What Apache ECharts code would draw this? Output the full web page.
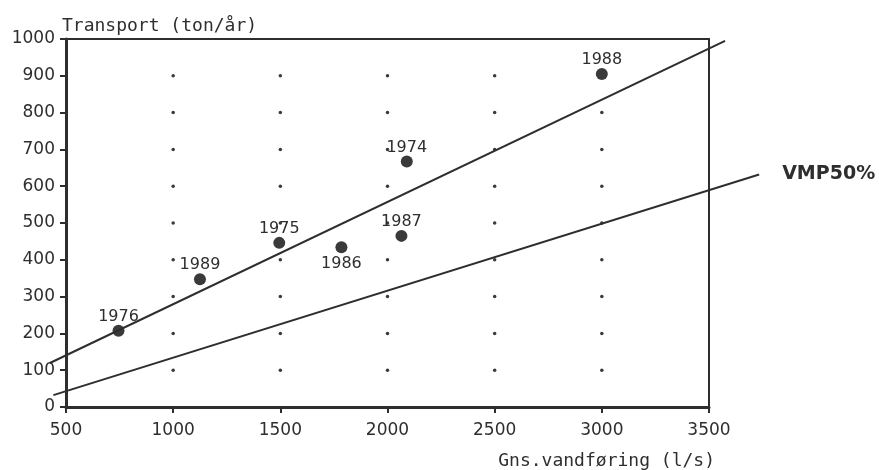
<!DOCTYPE html>
<html>
<head>
<meta charset="utf-8">
<script src="https://cdn.jsdelivr.net/npm/echarts@6/dist/echarts.min.js"></script>
<style>
  html, body { margin: 0; padding: 0; background: #fff; }
  #chart { width: 879px; height: 470px; }
</style>
</head>
<body>
<div id="chart"></div>
<script>
var years = ["1976", "1989", "1975", "1986", "1974", "1987", "1988"];
var flow = [745, 1125, 1495, 1785, 2090, 2065, 3000];
var transport = [207, 347, 446, 434, 667, 465, 905];

// fitted line through the points, and the VMP 50% curve
var fitX = [425, 3575];
var fitY = [122, 995];
var vmpX = [441, 3734];
var vmpY = [35, 633];

// dotted grid marks
var dotX = [1000, 1500, 2000, 2500, 3000];
var dotY = [100, 200, 300, 400, 500, 600, 700, 800, 900];

var ink = "#2e2e2e";
var font = "DejaVu Sans";
var nameFont = "DejaVu Sans Mono";

// plot frame in pixels, and an extended range for the lines that run past it
var plotLeft = 66, plotRight = 170, plotTop = 39, plotBottom = 62;
var xMin = 500, xMax = 3500, wideMin = 400, wideMax = 3800;
var pxPerUnit = (879 - plotLeft - plotRight) / (xMax - xMin);

var dots = [];
dotX.forEach(function (x) {
  dotY.forEach(function (y) {
    dots.push([x, y]);
  });
});

var points = years.map(function (year, i) {
  var below = year === "1986";
  return {
    name: year,
    value: [flow[i], transport[i]],
    label: { position: below ? "bottom" : "top", distance: below ? 3 : 0 }
  };
});

var noFormat = function (v) { return String(v); };

var chart = echarts.init(document.getElementById("chart"));

chart.setOption({
  animation: false,
  grid: [
    {
      left: plotLeft, right: plotRight, top: plotTop, bottom: plotBottom,
      show: true, borderColor: ink, borderWidth: 2
    },
    {
      left: plotLeft - (xMin - wideMin) * pxPerUnit,
      right: plotRight - (wideMax - xMax) * pxPerUnit,
      top: plotTop, bottom: plotBottom
    }
  ],
  xAxis: [
    {
      type: "value",
      gridIndex: 0,
      min: xMin, max: xMax, interval: 500,
      name: "Gns.vandføring (l/s)",
      nameLocation: "end",
      nameGap: 0,
      nameTextStyle: {
        color: ink, fontFamily: nameFont, fontSize: 18,
        align: "right", verticalAlign: "top", padding: [45, -6, 0, 0]
      },
      axisLine: { lineStyle: { color: ink, width: 3 } },
      axisTick: { show: true, length: 6, lineStyle: { color: ink, width: 2 } },
      axisLabel: { color: ink, fontFamily: font, fontSize: 17, margin: 15, formatter: noFormat },
      splitLine: { show: false }
    },
    {
      type: "value",
      gridIndex: 1,
      min: wideMin, max: wideMax,
      show: false
    }
  ],
  yAxis: [
    {
      type: "value",
      gridIndex: 0,
      min: 0, max: 1000, interval: 100,
      name: "Transport (ton/år)",
      nameLocation: "end",
      nameGap: 4,
      nameTextStyle: {
        color: ink, fontFamily: nameFont, fontSize: 18, align: "left", padding: [0, 0, 0, -4]
      },
      axisLine: { show: true, lineStyle: { color: ink, width: 3 } },
      axisTick: { show: true, length: 6, lineStyle: { color: ink, width: 2 } },
      axisLabel: { color: ink, fontFamily: font, fontSize: 17, margin: 11, formatter: noFormat },
      splitLine: { show: false }
    },
    {
      type: "value",
      gridIndex: 1,
      min: 0, max: 1000,
      show: false
    }
  ],
  series: [
    {
      type: "scatter",
      data: dots,
      symbolSize: 3.5,
      itemStyle: { color: "#3a3a3a", opacity: 1 },
      silent: true
    },
    {
      type: "line",
      xAxisIndex: 1, yAxisIndex: 1,
      data: fitX.map(function (x, i) { return [x, fitY[i]]; }),
      showSymbol: false,
      lineStyle: { color: ink, width: 2 }
    },
    {
      type: "line",
      xAxisIndex: 1, yAxisIndex: 1,
      data: vmpX.map(function (x, i) { return [x, vmpY[i]]; }),
      showSymbol: false,
      lineStyle: { color: ink, width: 2 },
      endLabel: {
        show: true,
        formatter: "VMP50%",
        distance: 23,
        color: ink,
        fontFamily: font,
        fontSize: 19,
        fontWeight: "bold"
      }
    },
    {
      type: "scatter",
      data: points,
      symbolSize: 12,
      itemStyle: { color: "#3a3a3a", opacity: 1 },
      label: {
        show: true,
        formatter: "{b}",
        color: ink,
        fontFamily: font,
        fontSize: 16
      }
    }
  ]
});
</script>
</body>
</html>
